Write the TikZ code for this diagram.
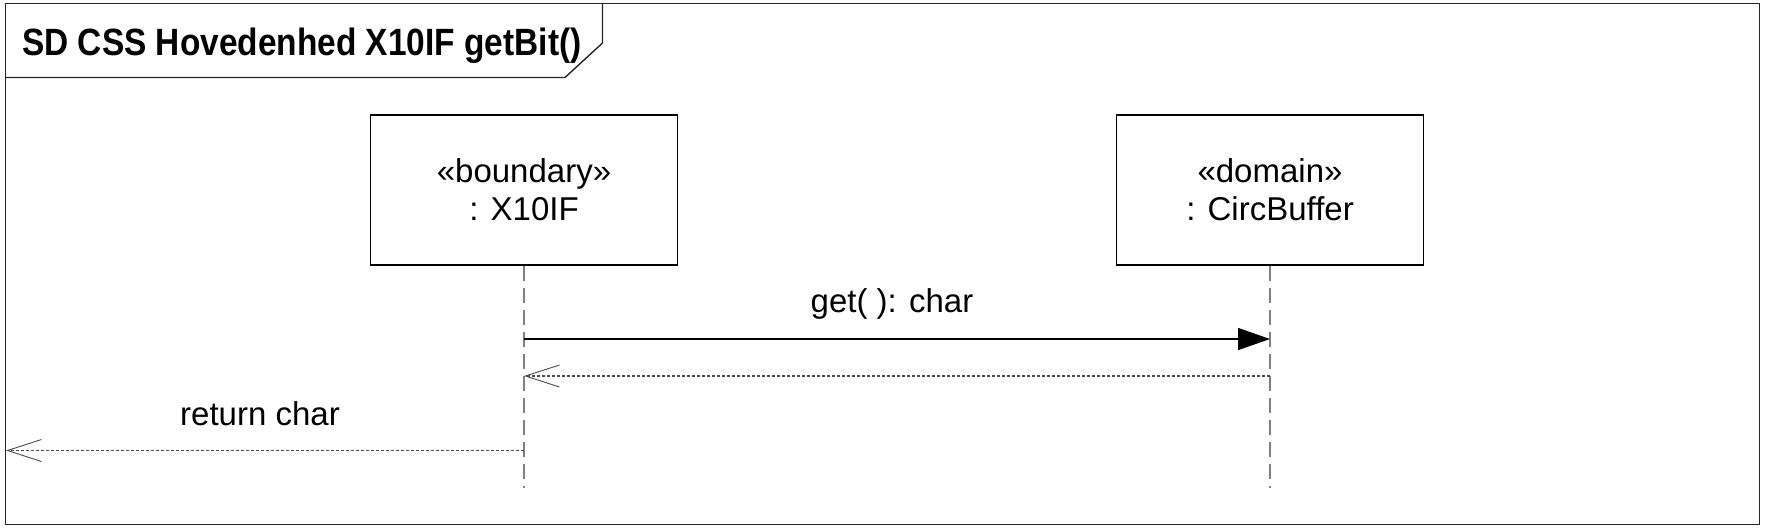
\documentclass[tikz,border=0pt]{standalone}
\usepackage{fontspec}
\usepackage{graphicx}
\setmainfont{Liberation Sans}
\usetikzlibrary{arrows.meta}
\begin{document}
\begin{tikzpicture}[x=1pt,y=-1pt,
  frameline/.style={draw=black!85, line width=1.4pt},
  lifebox/.style={draw=black, line width=1.2pt, minimum width=307pt, minimum height=150pt, align=center, inner sep=0pt, font=\fontsize{33}{38}\selectfont},
  lifeline/.style={draw=black!50, line width=1.3pt, dash pattern=on 15pt off 7pt},
  callmsg/.style={draw=black, line width=1.2pt, -{Triangle[length=32pt,width=22pt]}},
  retmsg/.style={draw=black!70, line width=1.1pt, dash pattern=on 3pt off 2pt, -{Straight Barb[length=34pt,width=22pt,line width=0.9pt]}},
  msglabel/.style={font=\fontsize{33}{38}\selectfont, inner sep=0pt}
]
\useasboundingbox (0,0) rectangle (1766,528);
\fill[white] (0,0) rectangle (1766,528);
% frame
\draw[frameline] (5.5,3.5) rectangle (1759.5,524.5);
\draw[frameline] (5.5,77.5) -- (565,77.5) -- (602.5,43) -- (602.5,3.5);
\node[anchor=base west, inner sep=0pt, font=\fontsize{38}{42}\selectfont\bfseries] (title) at (22,55) {\scalebox{0.88}[1]{SD CSS Hovedenhed X10IF getBit()}};
% lifeline heads
\node[lifebox] (x10) at (524,190) {«boundary»\\: X10IF};
\node[lifebox] (cb) at (1270,190) {«domain»\\: CircBuffer};
\coordinate (x10end) at (524,488);
\coordinate (cbend) at (1270,488);
\draw[lifeline] (x10.south) -- (x10end);
\draw[lifeline] (cb.south) -- (cbend);
% messages
\coordinate (m1s) at (524,339);
\coordinate (m1e) at (1270,339);
\coordinate (m2s) at (1270,376);
\coordinate (m2e) at (524,376);
\coordinate (m3s) at (524,450.5);
\coordinate (m3e) at (6,450.5);
\draw[callmsg] (m1s) -- (m1e);
\draw[retmsg] (m2s) -- (m2e);
\draw[retmsg] (m3s) -- (m3e);
\node[msglabel] (l1) at (892,304) {get( ): char};
\node[msglabel] (l3) at (260,414) {return char};
\end{tikzpicture}
\end{document}
